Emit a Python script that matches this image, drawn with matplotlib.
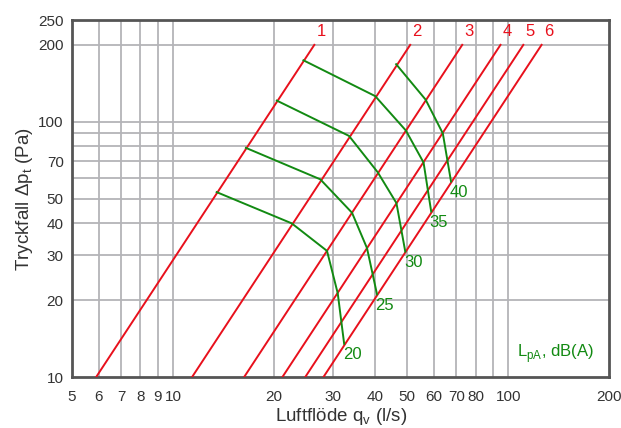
import numpy as np
import matplotlib
matplotlib.use('Agg')
import matplotlib.pyplot as plt
from matplotlib.ticker import FixedLocator, FixedFormatter, NullFormatter

plt.rcParams['font.family'] = ['Liberation Sans', 'DejaVu Sans']

# Damper positions: flow at 10 Pa and 200 Pa
pos_labels = ['1', '2', '3', '4', '5', '6']
q_low = [5.9, 11.4, 16.3, 21.2, 24.8, 28.1]
q_high = [26.4, 51.0, 72.9, 94.8, 110.9, 125.7]
dp_low = 10
dp_high = 200

# Sound level curves LpA (q, dp)
sound_levels = ['20', '25', '30', '35', '40']
sound_q = [
    [13.5, 22.6, 28.8, 31.0, 32.4],
    [16.5, 27.5, 34.2, 37.9, 40.6],
    [20.4, 33.5, 40.8, 46.4, 49.3],
    [24.5, 40.1, 49.5, 55.9, 58.9],
    [46.3, 56.7, 63.8, 67.5],
]
sound_dp = [
    [53, 40, 31.2, 21.3, 13.5],
    [79, 59.5, 44, 32, 21.1],
    [121, 88, 63.4, 48, 31],
    [174, 126, 92.4, 69.2, 44.5],
    [168, 122, 90, 58.3],
]

x_ticks = [5, 6, 7, 8, 9, 10, 20, 30, 40, 50, 60, 70, 80, 100, 200]
y_ticks = [10, 20, 30, 40, 50, 70, 100, 200, 250]
x_grid = [6, 7, 8, 9, 10, 20, 30, 40, 50, 60, 70, 80, 90, 100]
y_grid = [20, 30, 40, 50, 60, 70, 80, 90, 100, 200]

red = '#e8101c'
green = '#128a12'

fig = plt.figure(figsize=(6.21, 4.28), dpi=100)
ax = fig.add_axes([0.116, 0.119, 0.865, 0.834])
ax.set_xscale('log')
ax.set_yscale('log')
ax.set_xlim(5, 200)
ax.set_ylim(10, 250)

ax.xaxis.set_major_locator(FixedLocator(x_ticks))
ax.xaxis.set_major_formatter(FixedFormatter([str(t) for t in x_ticks]))
ax.yaxis.set_major_locator(FixedLocator(y_ticks))
ax.yaxis.set_major_formatter(FixedFormatter([str(t) for t in y_ticks]))
ax.xaxis.set_minor_locator(FixedLocator(x_grid))
ax.yaxis.set_minor_locator(FixedLocator(y_grid))
ax.xaxis.set_minor_formatter(NullFormatter())
ax.yaxis.set_minor_formatter(NullFormatter())
ax.xaxis.remove_overlapping_locs = False
ax.yaxis.remove_overlapping_locs = False
ax.grid(False, which='major')
ax.grid(True, which='minor', color='#b4b4b8', linewidth=1.3)
ax.tick_params(which='both', length=0, labelsize=11, colors='#333333')
ax.tick_params(axis='x', pad=9)
ax.tick_params(axis='y', pad=6)
for s in ax.spines.values():
    s.set_color('#555555')
    s.set_linewidth(2)

for lab, q0, q1 in zip(pos_labels, q_low, q_high):
    ax.plot([q0, q1], [dp_low, dp_high], color=red, linewidth=1.4, zorder=3)
    ax.annotate(lab, (q1, dp_high), xytext=(5, 4), textcoords='offset points',
                color=red, fontsize=12, ha='center', va='bottom')

for lab, qs, dps in zip(sound_levels, sound_q, sound_dp):
    ax.plot(qs, dps, color=green, linewidth=1.4, zorder=4)
    ax.annotate(lab, (qs[-1], dps[-1]), xytext=(-1, -8), textcoords='offset points',
                color=green, fontsize=12, ha='left', va='center')

ax.text(0.828, 0.065, 'L$_\\mathregular{pA}$, dB(A)', transform=ax.transAxes,
        color=green, fontsize=12, ha='left', va='center')

ax.set_xlabel('Luftflöde q$_\\mathregular{v}$ (l/s)', fontsize=13.5, color='#333333', labelpad=2)
ax.set_ylabel('Tryckfall Δp$_\\mathregular{t}$ (Pa)', fontsize=13.5, color='#333333', labelpad=2)

fig.savefig('out.png', dpi=100)
